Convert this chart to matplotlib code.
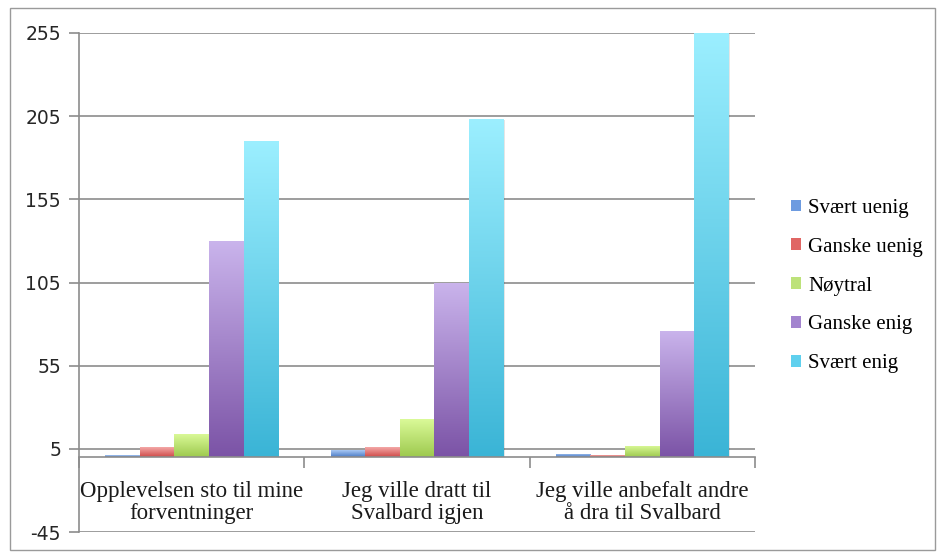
import numpy as np
import matplotlib.pyplot as plt
from matplotlib.colors import LinearSegmentedColormap
from matplotlib.patches import Rectangle, Patch

# Survey answers, number of respondents per statement
categories = ['Opplevelsen sto til mine\nforventninger',
              'Jeg ville dratt til\nSvalbard igjen',
              'Jeg ville anbefalt andre\nå dra til Svalbard']
series = ['Svært uenig', 'Ganske uenig', 'Nøytral', 'Ganske enig', 'Svært enig']
svaert_uenig = [1, 4, 2]
ganske_uenig = [6, 6, 1]
noytral = [14, 23, 7]
ganske_enig = [130, 105, 76]
svaert_enig = [190, 203, 255]
yticks = [-45, 5, 55, 105, 155, 205, 255]

values = [svaert_uenig, ganske_uenig, noytral, ganske_enig, svaert_enig]

# (top colour, bottom colour) of the gradient fill for each series
grad = [('#a9c8f4', '#4a7bc6'),
        ('#f4a9a8', '#cf4a48'),
        ('#dcfb9a', '#9dc94e'),
        ('#cab4ec', '#7b53a6'),
        ('#9cefff', '#3ab4d6')]
legend_col = ['#6d9be0', '#e06664', '#bde27a', '#a384cf', '#5fd0ee']

plt.rcParams['font.family'] = ['Liberation Serif', 'DejaVu Serif']
grey = '#8c8c8c'

fig = plt.figure(figsize=(9.39, 5.54), dpi=100)
ax = fig.add_axes([79/939, 1-532/554, (755-79)/939, (532-33)/554])

x = np.arange(len(categories))
n = len(series)
bw = 0.767 / n
ramp = np.linspace(1, 0, 256).reshape(-1, 1)

for i in range(n):
    pos = x + (i - (n - 1) / 2) * bw
    bars = ax.bar(pos, values[i], bw, color='none', edgecolor='none', zorder=3)
    cmap = LinearSegmentedColormap.from_list(series[i], [grad[i][1], grad[i][0]])
    for b in bars:
        x0, w, h = b.get_x(), b.get_width(), b.get_height()
        # soft shadow to the right of each bar
        ax.add_patch(Rectangle((x0 + 0.006, 0), w, h - 0.6, facecolor='#000000',
                               alpha=0.10, edgecolor='none', zorder=2))
        im = ax.imshow(ramp, cmap=cmap, aspect='auto', extent=(x0, x0 + w, 0, h),
                       zorder=3, interpolation='bilinear')
        im.set_clip_path(b)

ax.set_xlim(-0.5, 2.5)
ax.set_ylim(-45, 255)
ax.set_yticks(yticks)
ax.set_yticklabels([str(t) for t in yticks], family='DejaVu Sans', fontsize=13.5, color='#262626')
ax.yaxis.grid(True, color=grey, linewidth=1.2, zorder=0)
ax.set_axisbelow(True)
ax.tick_params(axis='y', direction='out', length=7, width=1.2, color=grey, pad=6)

# category axis sits at zero, ticks on the category boundaries
ax.spines['bottom'].set_position(('data', 0))
ax.spines['bottom'].set_color(grey)
ax.spines['bottom'].set_linewidth(1.2)
ax.spines['bottom'].set_zorder(4)
ax.set_xticks([-0.5, 0.5, 1.5, 2.5])
ax.set_xticklabels([])
ax.set_xticks(x, minor=True)
ax.set_xticklabels(categories, minor=True, fontsize=16.5, color='#1a1a1a', linespacing=1.1)
ax.tick_params(axis='x', which='major', direction='out', length=8, width=1.2, color=grey)
ax.tick_params(axis='x', which='minor', length=0, pad=17)

ax.spines['left'].set_color(grey)
ax.spines['left'].set_linewidth(1.2)
ax.spines['top'].set_visible(False)
ax.spines['right'].set_visible(False)

handles = [Patch(facecolor=c, edgecolor='none') for c in legend_col]
fig.legend(handles, series, loc='center left', bbox_to_anchor=(772/939, 1-286/554),
           frameon=False, fontsize=15, handlelength=0.5, handleheight=0.5,
           handletextpad=0.35, labelspacing=0.95)

# light frame around the whole chart
fig.add_artist(Rectangle((10/939, 1-550/554), 925/939, 542/554, transform=fig.transFigure,
                         fill=False, edgecolor='#9a9a9a', linewidth=1.0))

fig.savefig('out.png', dpi=100)
